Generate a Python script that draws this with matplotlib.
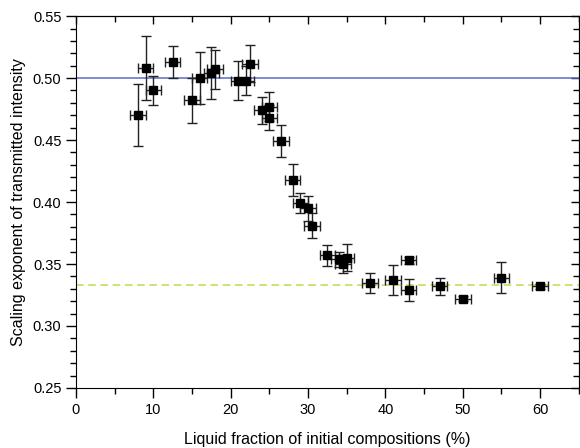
import matplotlib.pyplot as plt
from matplotlib.ticker import MultipleLocator

plt.rcParams['font.family'] = ['Liberation Sans', 'DejaVu Sans']

# liquid fraction (%), scaling exponent and error bars
liquid = [8, 9, 10, 12.5, 15, 16, 17.5, 18, 21, 22, 22.5, 24, 25, 25, 26.5,
          28, 29, 30, 30.5, 32.5, 34, 34.5, 35, 38, 41, 43, 43, 47, 50, 55, 60]
exponent = [0.470, 0.508, 0.490, 0.513, 0.482, 0.500, 0.504, 0.507, 0.498,
            0.498, 0.5115, 0.474, 0.477, 0.468, 0.449, 0.4175, 0.399, 0.395,
            0.381, 0.357, 0.354, 0.350, 0.355, 0.335, 0.337, 0.353, 0.329,
            0.332, 0.322, 0.339, 0.332]
exponent_err = [0.025, 0.026, 0.012, 0.013, 0.018, 0.021, 0.021, 0.016,
                0.016, 0.012, 0.015, 0.011, 0.012, 0.010, 0.013, 0.013,
                0.008, 0.010, 0.010, 0.0085, 0.006, 0.007, 0.011, 0.008,
                0.012, 0.003, 0.009, 0.007, 0.002, 0.0125, 0.002]
liquid_err = [1.0] * len(liquid)

level_high = 0.5
level_low = 1 / 3

fig = plt.figure(figsize=(5.8, 4.48), dpi=100)
ax = fig.add_axes([0.131, 0.134, 0.867, 0.830])

ax.axhline(level_high, color='#5b6cc4', lw=1.1, zorder=1)
ax.axhline(level_low, color='#b8df4e', lw=1.1, ls=(0, (5, 3)), zorder=1)

ax.errorbar(liquid, exponent, yerr=exponent_err, xerr=liquid_err,
            fmt='s', color='black', ms=5.8, ecolor='#222222', elinewidth=1.0,
            capsize=3.5, capthick=1.0, zorder=3)

ax.set_xlim(0, 65)
ax.set_ylim(0.25, 0.55)
ax.set_xticks([0, 10, 20, 30, 40, 50, 60])
ax.xaxis.set_minor_locator(MultipleLocator(5))
ax.yaxis.set_major_locator(MultipleLocator(0.05))
ax.yaxis.set_minor_locator(MultipleLocator(0.01))
ax.yaxis.set_major_formatter(plt.FormatStrFormatter('%.2f'))

ax.tick_params(which='both', direction='out', top=False, right=False,
               labelsize=10.5, width=1)
ax.tick_params(which='major', length=7)
ax.tick_params(which='minor', length=4)

# Origin style: inward ticks on top and right, no labels
axt = ax.secondary_xaxis('top')
axt.xaxis.set_major_locator(MultipleLocator(10))
axt.xaxis.set_minor_locator(MultipleLocator(5))
axt.tick_params(which='both', direction='in', labeltop=False, width=1)
axt.tick_params(which='major', length=6)
axt.tick_params(which='minor', length=4)
axr = ax.secondary_yaxis('right')
axr.yaxis.set_major_locator(MultipleLocator(0.05))
axr.yaxis.set_minor_locator(MultipleLocator(0.01))
axr.tick_params(which='both', direction='in', labelright=False, width=1)
axr.tick_params(which='major', length=6)
axr.tick_params(which='minor', length=4)

ax.set_xlabel('Liquid fraction of initial compositions (%)', fontsize=11.5,
              labelpad=11)
ax.set_ylabel('Scaling exponent of transmitted intensity', fontsize=11.5,
              labelpad=5)

plt.savefig('out.png', dpi=100)
plt.close()
